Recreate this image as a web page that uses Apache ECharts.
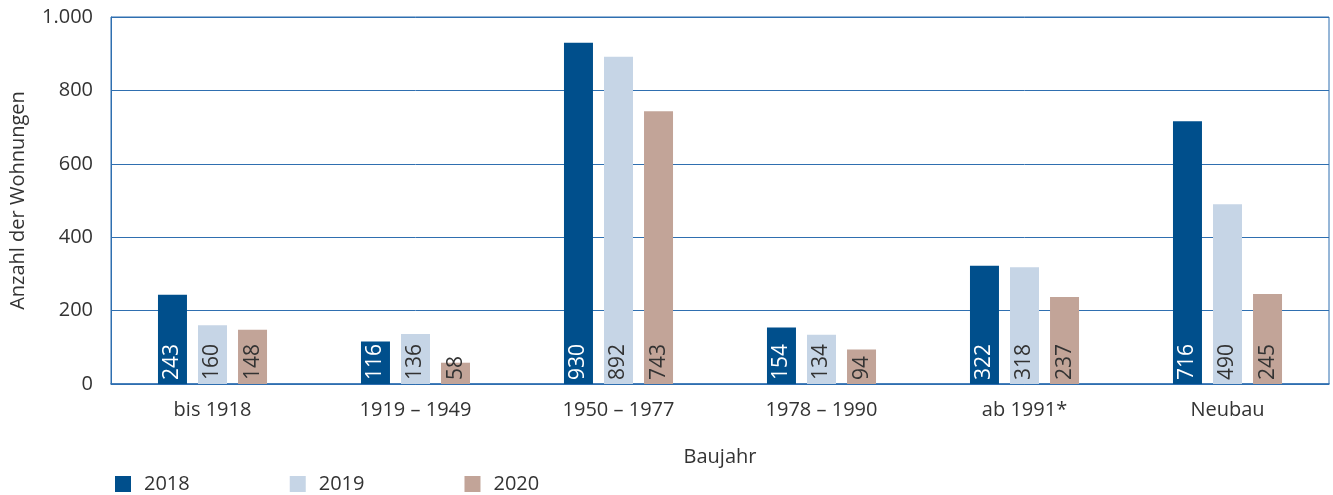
<!DOCTYPE html>
<html>
<head>
<meta charset="utf-8">
<script src="https://cdn.jsdelivr.net/npm/echarts@6/dist/echarts.min.js"></script>
<style>
  html, body { margin: 0; padding: 0; background: #fff; }
  #chart { width: 1333px; height: 495px; }
</style>
</head>
<body>
<div id="chart"></div>
<script>
// Baujahr-Kategorien und Werte je Jahr
const categories = ['bis 1918', '1919 – 1949', '1950 – 1977', '1978 – 1990', 'ab 1991*', 'Neubau']
const years = ['2018', '2019', '2020']
const values2018 = [243, 116, 930, 154, 322, 716]
const values2019 = [160, 136, 892, 134, 318, 490]
const values2020 = [148, 58, 743, 94, 237, 245]
const yTicks = [0, 200, 400, 600, 800, 1000]

const colors = ['#004f8c', '#c6d5e6', '#c2a498']
const labelColors = ['#ffffff', '#333333', '#333333']
const font = '"Open Sans", sans-serif'

let mychart = echarts.init(document.getElementById('chart'))

const seriesData = [values2018, values2019, values2020]

mychart.setOption({
  animation: false,
  textStyle: { fontFamily: font },
  grid: {
    left: 109,
    right: 4,
    top: 17,
    bottom: 111,
    show: true,
    borderColor: '#2f6fb0',
    borderWidth: 1,
  },
  legend: {
    left: 110,
    top: 469,
    itemWidth: 16,
    itemHeight: 16,
    itemGap: 100,
    icon: 'rect',
    data: years,
    textStyle: { fontSize: 20, color: '#333', fontFamily: font, padding: [0, 0, 0, 8] },
  },
  xAxis: {
    type: 'category',
    data: categories,
    name: 'Baujahr',
    nameLocation: 'middle',
    nameGap: 63,
    nameTextStyle: { fontSize: 20, color: '#333' },
    axisLine: { lineStyle: { color: '#2f6fb0', width: 1.5 } },
    axisTick: { inside: true, length: 8, lineStyle: { color: '#2f6fb0' } },
    axisLabel: { fontSize: 20, color: '#333', margin: 16 },
  },
  yAxis: {
    type: 'value',
    min: 0,
    max: yTicks[yTicks.length - 1],
    interval: 200,
    name: 'Anzahl der Wohnungen',
    nameLocation: 'middle',
    nameGap: 83,
    nameTextStyle: { fontSize: 20, color: '#333' },
    axisLine: { show: true, lineStyle: { color: '#2f6fb0' } },
    axisTick: { show: false },
    splitLine: { lineStyle: { color: '#2f6fb0', width: 1 } },
    axisLabel: {
      fontSize: 20,
      color: '#333',
      margin: 18,
      formatter: (v) => v.toLocaleString('de-DE'),
    },
  },
  series: years.map((y, i) => ({
    name: y,
    type: 'bar',
    data: seriesData[i],
    barWidth: 29,
    barGap: '38%',
    itemStyle: { color: colors[i] },
    label: {
      show: true,
      position: 'insideBottom',
      rotate: 90,
      align: 'left',
      verticalAlign: 'middle',
      distance: 4,
      fontSize: 21,
      color: labelColors[i],
      fontFamily: font,
    },
  })),
})
</script>
</body>
</html>
